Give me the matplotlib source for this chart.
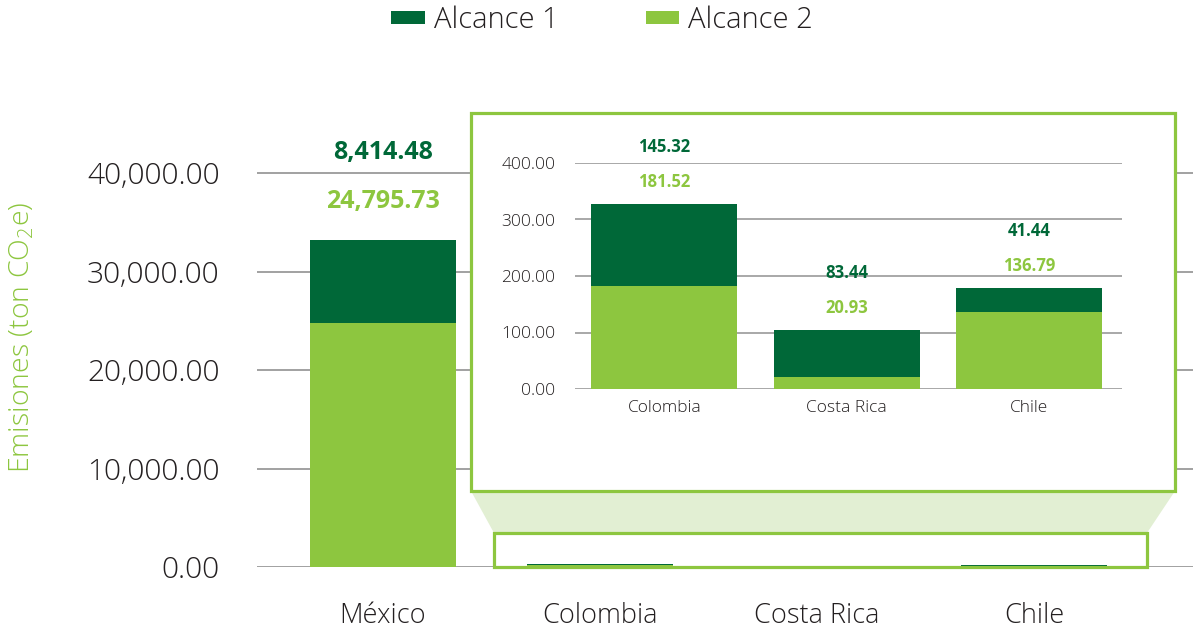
import matplotlib
matplotlib.use("Agg")
import matplotlib.pyplot as plt
from matplotlib.patches import Rectangle, Polygon

plt.rcParams['font.family'] = ['Open Sans', 'DejaVu Sans']
LW = 'light'

# ---- data ----
countries = ["México", "Colombia", "Costa Rica", "Chile"]
alcance1 = [8414.48, 145.32, 83.44, 41.44]
alcance2 = [24795.73, 181.52, 20.93, 136.79]
main_ticks = [0, 10000, 20000, 30000, 40000]
inset_countries = countries[1:]
inset_a1 = alcance1[1:]
inset_a2 = alcance2[1:]
inset_ticks = [0, 100, 200, 300, 400]

DARK = "#006838"
LIGHT = "#8DC63F"
PALE = "#E2EFD3"
GRID = "#9a9a9a"
TXT = "#231F20"

W, H = 1193, 630
fig = plt.figure(figsize=(W / 100, H / 100), dpi=100)

def fx(x):
    return x / W

def fy(y):
    return 1 - y / H

# ---- main axes ----
ax = fig.add_axes([fx(257), fy(567), fx(1193) - fx(257), fy(124) - fy(567)])
ax.set_zorder(0)
xs = list(range(len(countries)))
b2 = ax.bar(xs, alcance2, width=0.673, color=LIGHT, label="Alcance 2", zorder=2)
b1 = ax.bar(xs, alcance1, width=0.673, bottom=alcance2, color=DARK, label="Alcance 1", zorder=2)
ax.set_xlim(-0.5806, 3.733)
ax.set_ylim(0, 45000)
ax.set_yticks(main_ticks)
ax.set_yticklabels([f"{v:,.2f}" for v in main_ticks])
ax.set_xticks(xs)
ax.set_xticklabels(countries)
for s in ax.spines.values():
    s.set_visible(False)
ax.yaxis.grid(True, color=GRID, linewidth=1.3)
ax.set_axisbelow(True)
ax.tick_params(axis='y', length=0, pad=27, labelsize=21.5, labelcolor=TXT)
ax.tick_params(axis='x', length=0, pad=25, labelsize=19.5, labelcolor=TXT)
for lab in ax.get_yticklabels() + ax.get_xticklabels():
    lab.set_fontweight(LW)
ax.set_ylabel("Emisiones (ton CO$_{\\mathregular{2}}$e)", color=LIGHT, fontsize=20.5,
              fontweight=LW)
ax.yaxis.set_label_coords(-(257 - 36) / (1193 - 257), (567 - 337) / (567 - 124))

# México value labels
top0 = alcance1[0] + alcance2[0]
ax.annotate(f"{alcance1[0]:,.2f}", (0, top0), xytext=(0, 63), textcoords='offset points',
            ha='center', va='center', color=DARK, fontsize=18, fontweight='bold')
ax.annotate(f"{alcance2[0]:,.2f}", (0, top0), xytext=(0, 28), textcoords='offset points',
            ha='center', va='center', color=LIGHT, fontsize=18, fontweight='bold')

# legend
leg = fig.legend(handles=[b1, b2], labels=["Alcance 1", "Alcance 2"], loc='center',
                 bbox_to_anchor=(fx(602), fy(20)), ncol=2, frameon=False,
                 fontsize=21, handlelength=1.15, handleheight=0.32, handletextpad=0.3,
                 columnspacing=3.0, labelcolor=TXT)
for t in leg.get_texts():
    t.set_fontweight(LW)

# connector trapezoid
poly = Polygon([(fx(471), fy(491)), (fx(1175), fy(491)), (fx(1147), fy(533)), (fx(494), fy(533))],
               closed=True, transform=fig.transFigure, facecolor=PALE, edgecolor='none', zorder=1)
fig.add_artist(poly)
# small zoom box
small = Rectangle((fx(494), fy(567)), fx(1147) - fx(494), fy(533) - fy(567),
                  transform=fig.transFigure, facecolor='none', edgecolor=LIGHT, linewidth=2.3, zorder=3)
fig.add_artist(small)
# inset frame
frame = Rectangle((fx(471), fy(491)), fx(1175) - fx(471), fy(113) - fy(491),
                  transform=fig.transFigure, facecolor='white', edgecolor=LIGHT, linewidth=2.3, zorder=2)
fig.add_artist(frame)

# ---- inset axes ----
ai = fig.add_axes([fx(575), fy(389), fx(1122) - fx(575), fy(163) - fy(389)])
ai.set_zorder(5)
ai.patch.set_alpha(0)
xi = list(range(len(inset_countries)))
ai.bar(xi, inset_a2, width=0.8, color=LIGHT, zorder=2)
ai.bar(xi, inset_a1, width=0.8, bottom=inset_a2, color=DARK, zorder=2)
ai.set_xlim(-0.49, 2.51)
ai.set_ylim(0, 400)
ai.set_yticks(inset_ticks)
ai.set_yticklabels([f"{v:,.2f}" for v in inset_ticks])
ai.set_xticks(xi)
ai.set_xticklabels(inset_countries)
for s in ai.spines.values():
    s.set_visible(False)
ai.yaxis.grid(True, color=GRID, linewidth=1.2)
ai.set_axisbelow(True)
ai.tick_params(axis='y', length=0, pad=14, labelsize=12.5, labelcolor=TXT)
ai.tick_params(axis='x', length=0, pad=8, labelsize=12.5, labelcolor=TXT)
for lab in ai.get_yticklabels() + ai.get_xticklabels():
    lab.set_fontweight(LW)
for i in xi:
    top = inset_a1[i] + inset_a2[i]
    ai.annotate(f"{inset_a1[i]:,.2f}", (i, top), xytext=(0, 41), textcoords='offset points',
                ha='center', va='center', color=DARK, fontsize=12, fontweight='bold',
                annotation_clip=False)
    ai.annotate(f"{inset_a2[i]:,.2f}", (i, top), xytext=(0, 16), textcoords='offset points',
                ha='center', va='center', color=LIGHT, fontsize=12, fontweight='bold',
                annotation_clip=False)

fig.savefig("out.png", dpi=100)
